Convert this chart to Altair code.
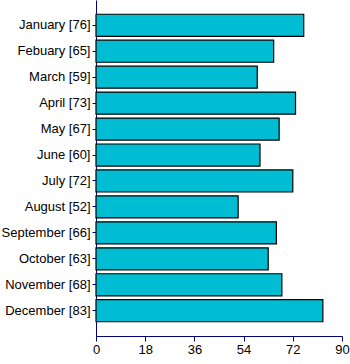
import altair as alt
import pandas as pd

months = ["January", "Febuary", "March", "April", "May", "June", "July",
          "August", "September", "October", "November", "December"]
values = [76, 65, 59, 73, 67, 60, 72, 52, 66, 63, 68, 83]
x_ticks = [0, 18, 36, 54, 72, 90]

labels = [f"{m} [{v}]" for m, v in zip(months, values)]
df = pd.DataFrame({"label": labels, "value": values})

chart = alt.Chart(df).mark_bar(
    color="#00BDD3", stroke="black", strokeWidth=1.2
).encode(
    y=alt.Y("label:N", sort=labels, title=None,
            scale=alt.Scale(paddingInner=0.15, paddingOuter=0.55),
            axis=alt.Axis(domainColor="#000080", tickColor="#000080",
                          tickSize=4, labelFontSize=13, labelColor="#000000",
                          labelFont="Liberation Sans", labelPadding=2,
                          grid=False)),
    x=alt.X("value:Q", title=None,
            scale=alt.Scale(domain=[0, 90], nice=False),
            axis=alt.Axis(values=x_ticks, domainColor="#000080", tickColor="#000080",
                          tickSize=5, labelFontSize=13, labelColor="#000000",
                          labelFont="Liberation Sans", grid=False, labelPadding=2,
                          labelFlush=False))
).properties(
    width=246, height=336,
    autosize=alt.AutoSizeParams(type="none"),
    padding={"left": 96, "top": 0, "right": 8, "bottom": 28}
).configure_view(stroke=None)

chart.save("out.html", embed_options={"renderer": "svg", "actions": False})
